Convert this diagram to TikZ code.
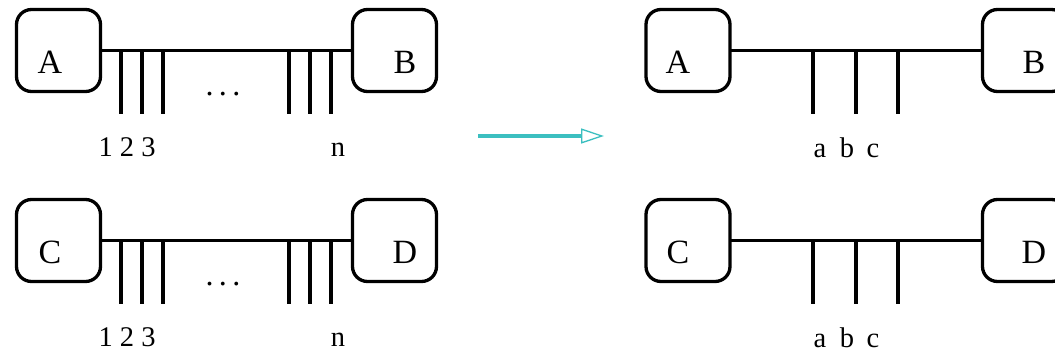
\documentclass[tikz,border=0pt]{standalone}
\usepackage{fontspec}
\setmainfont{Liberation Serif}
\usetikzlibrary{arrows.meta}
\definecolor{arrowteal}{HTML}{3CBFC0}
\newcommand\boxfont{\fontsize{34}{40}\selectfont}
\newcommand\lblfont{\fontsize{28.5}{32}\selectfont}
\newcommand\dotfont{\fontsize{32}{36}\selectfont}
\begin{document}
\begin{tikzpicture}[x=1pt,y=-1pt,
  box/.style={draw, line width=3.3pt, rounded corners=15pt,
    minimum width=84pt, minimum height=82pt, inner sep=0pt, outer sep=0pt},
  wire/.style={line width=3.3pt},
  lbl/.style={anchor=base, font=\lblfont, inner sep=0pt},
  boxtext/.style={font=\boxfont, inner sep=0pt},
  flow/.style={line width=4pt, arrowteal,
    -{Triangle[open, length=23pt, width=15pt, line width=1.3pt, fill=white]}}]
\useasboundingbox (0,0) rectangle (1055,353);
\clip (0,0) rectangle (1055,353);

% ---- left half: buses with many taps ----
\foreach \r/\y/\p/\q in {1/50.5/A/B, 2/240.5/C/D}{
  \node[box, label={[boxtext, name=L\p\r, xshift=-8.5pt, yshift=-11.5pt]center:\p}]
    (L\p) at (58.5,\y) {};
  \node[box, label={[boxtext, name=L\q\r, xshift=10.5pt, yshift=-11.5pt]center:\q}]
    (L\q) at (394.5,\y) {};
  \draw[wire] (L\p.east) -- (L\q.west);
  \foreach \x/\k in {121/1,142/2,163/3,289/4,310/5,331/6}{
    \coordinate (lt\r\k) at (\x,\y);
    \draw[wire] (lt\r\k) -- ++(0,63.5);
  }
  \node[lbl, font=\dotfont] (dots\r) at (223,\y+45) {.\,.\,.};
  \node[lbl] (num\r) at (127,\y+105.5) {1 2 3};
  \node[lbl] (n\r) at (338,\y+105.5) {n};
}

% ---- right half: buses with three taps ----
\foreach \r/\y/\p/\q in {1/50.5/A/B, 2/240.5/C/D}{
  \node[box, label={[boxtext, name=R\p\r, xshift=-10pt, yshift=-11.5pt]center:\p}]
    (R\p) at (688,\y) {};
  \node[box, label={[boxtext, name=R\q\r, xshift=9.5pt, yshift=-11.5pt]center:\q}]
    (R\q) at (1024.5,\y) {};
  \draw[wire] (R\p.east) -- (R\q.west);
  \foreach \x/\k in {813/a,856/b,898/c}{
    \coordinate (rt\r\k) at (\x,\y);
    \draw[wire] (rt\r\k) -- ++(0,63.5);
  }
  \node[lbl] (la\r) at (820,\y+106.5) {a};
  \node[lbl] (lb\r) at (847,\y+106.5) {b};
  \node[lbl] (lc\r) at (873,\y+106.5) {c};
}

% ---- transformation arrow ----
\coordinate (arrS) at (478,136);
\coordinate (arrE) at (604,136);
\draw[flow] (arrS) -- (arrE);
\end{tikzpicture}
\end{document}
